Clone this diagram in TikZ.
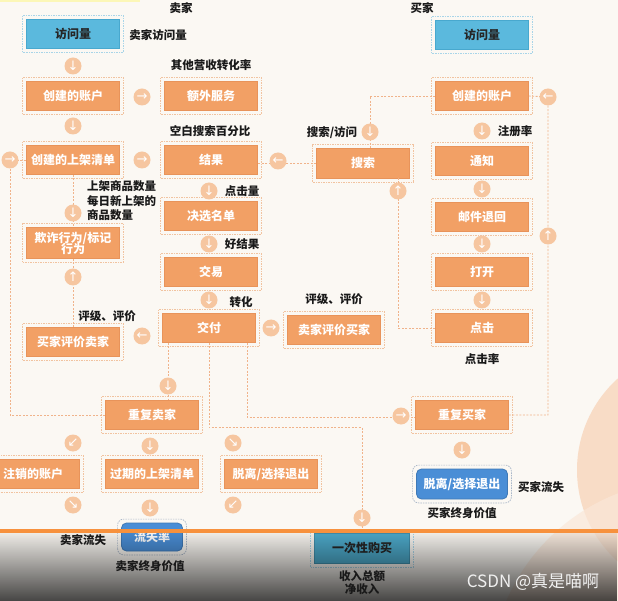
\documentclass[tikz,border=0pt]{standalone}
\usepackage{fontspec}
\setmainfont{Noto Sans CJK SC}
\newfontfamily\symfont{DejaVu Sans}
\usetikzlibrary{calc,fadings}

\definecolor{bgcream}{HTML}{FBF8F3}
\definecolor{peach}{HTML}{F8DCC6}
\definecolor{peachlight}{HTML}{FAE7D8}
\definecolor{boxorange}{HTML}{F2A065}
\definecolor{boxedge}{HTML}{E8935A}
\definecolor{haloorange}{HTML}{F1C3A0}
\definecolor{circpeach}{HTML}{F6C6A0}
\definecolor{lineorange}{HTML}{F0B38A}
\definecolor{skyblue}{HTML}{5BB9DD}
\definecolor{skyedge}{HTML}{48A8CE}
\definecolor{haloblue}{HTML}{A9D5E8}
\definecolor{exitblue}{HTML}{4A8ED6}
\definecolor{halogray}{HTML}{A9B7C8}
\definecolor{tealbox}{HTML}{4DAACB}
\definecolor{stripe}{HTML}{F7913D}

\tikzfading[name=dimdown, top color=transparent!95, bottom color=transparent!28]

\begin{document}
\begin{tikzpicture}[x=1pt, y=-1pt,
    box/.style={draw=boxedge, line width=0.8pt, fill=boxorange, text=white, minimum width=93, minimum height=29,
        inner sep=1pt, align=center, font=\fontsize{12}{14}\selectfont\bfseries},
    visitbox/.style={box, draw=skyedge, fill=skyblue, text=black!85},
    exitbox/.style={box, draw=exitblue!85!black, fill=exitblue, rounded corners=5pt},
    oncebox/.style={box, draw=tealbox!85!black, fill=tealbox, text=black!85},
    halo/.style={draw=haloorange, line width=0.7pt, dash pattern=on 1.5pt off 1pt},
    conn/.style={draw=lineorange, line width=0.9pt, dash pattern=on 2pt off 1.5pt},
    arr/.style={circle, fill=circpeach, text=white, minimum size=17, inner sep=0pt, font=\symfont\fontsize{13}{13}\selectfont},
    lbl/.style={inner sep=0pt, text=black!90, align=center, font=\fontsize{11.5}{14}\selectfont\bfseries}]
    \useasboundingbox (0,0) rectangle (618,601);
    \clip (0,0) rectangle (618,601);

    % Background
    \fill[bgcream] (0,0) rectangle (618,601);
    \fill[yellow!25!bgcream] (0,0) rectangle (140,2);
    \fill[peach] (700,470) circle (123pt);
    \fill[peachlight, opacity=0.7] (690,680) circle (200pt);

    % Seller column
    \node[visitbox] (sv) at (73,34) {访问量};
    \node[box] (sacc) at (73,96) {创建的账户};
    \node[box] (extra) at (211,96) {额外服务};
    \node[box] (slist) at (73,160) {创建的上架清单};
    \node[box] (res) at (211,160) {结果};
    \node[box, minimum height=31] (fraud) at (73,243) {欺诈行为/标记\\[-3pt]行为};
    \node[box] (brs) at (73,342) {买家评价卖家};
    \node[box] (short) at (211,216) {决选名单};
    \node[box] (deal) at (211,272) {交易};
    \node[box] (deliv) at (209,328) {交付};
    \node[box] (srb) at (334,330) {卖家评价买家};
    \node[box, minimum height=30] (search) at (363,163) {搜索};

    % Buyer column
    \node[visitbox] (bv) at (482,35) {访问量};
    \node[box] (bacc) at (482,96) {创建的账户};
    \node[box] (notify) at (482,161) {通知};
    \node[box] (bounce) at (482,217) {邮件退回};
    \node[box] (openn) at (482,272) {打开};
    \node[box] (click) at (482,328) {点击};

    % Repeat and churn
    \node[box] (rseller) at (152,415) {重复卖家};
    \node[box] (closed) at (33,474) {注销的账户};
    \node[box] (expired) at (152,474) {过期的上架清单};
    \node[box] (sopt) at (271,474) {脱离/选择退出};
    \node[exitbox, minimum width=61, minimum height=28] (churn) at (152,537) {流失率};
    \node[box] (rbuyer) at (462,415) {重复买家};
    \node[exitbox, minimum width=91, minimum height=30] (bopt) at (462,484) {脱离/选择退出};
    \node[oncebox, minimum width=95, minimum height=30] (once) at (362,548) {一次性购买};

    % Dashed halos
    \foreach \n in {sacc,extra,slist,res,fraud,brs,short,deal,deliv,srb,search,bacc,notify,bounce,openn,click,rseller,closed,expired,sopt,rbuyer}
        \draw[halo] ($(\n.south west)+(-3.5pt,-3.5pt)$) rectangle ($(\n.north east)+(3.5pt,3.5pt)$);
    \foreach \n in {sv,bv,once}
        \draw[halo, draw=haloblue] ($(\n.south west)+(-3.5pt,-3.5pt)$) rectangle ($(\n.north east)+(3.5pt,3.5pt)$);
    \foreach \n in {churn,bopt}
        \draw[halo, draw=halogray, rounded corners=6pt] ($(\n.south west)+(-3.5pt,-3.5pt)$) rectangle ($(\n.north east)+(3.5pt,3.5pt)$);

    % Connectors
    \coordinate (lloop) at (10,160);
    \coordinate (rloop) at (548,97);
    \coordinate (sn) at ($(search.north)+(7pt,0)$);
    \coordinate (ss) at ($(search.south)+(35pt,0)$);
    \coordinate (dl) at ($(deliv.south)+(-41pt,0)$);
    \coordinate (dr) at ($(deliv.south)+(38pt,0)$);
    \draw[conn] (slist) -- (fraud);
    \draw[conn] (brs) -- (fraud);
    \draw[conn] (search.west) -- (search.west -| res.east);
    \draw[conn] (bacc.west) -| (sn);
    \draw[conn] (click.west) -| (ss);
    \draw[conn] (rseller.west) -| (lloop) -- (slist.west);
    \draw[conn] (rbuyer.east) -| (rloop) -- (bacc.east);
    \draw[conn] (dl) -- (dl |- rseller.north);
    \draw[conn] (deliv.south) -- ++(0,85) -| (once.north);
    \draw[conn] (dr) |- ($(rbuyer.west)+(0,-2pt)$);

    % Arrow circles
    \foreach \px/\py/\g [count=\i] in {73/66/↓, 142/97/→, 73/126/↓, 142/160/→, 10/160/→, 73/213/↓, 73/277/↑,
        142/336/←, 209/191/↓, 209/244/↓, 209/300/↓, 271/328/→, 278/161/←, 370/132/↓, 398/191/↑,
        482/131/↓, 482/189/↓, 482/244/↓, 482/300/↓, 548/97/←, 548/236/↑, 168/386/↓, 362/518/↓,
        401/416/→, 73/443/↙, 150/446/↓, 233/443/↘, 73/505/↘, 150/508/↓, 233/505/↙, 462/450/↓}
        \node[arr] (c\i) at (\px,\py) {\g};

    % Labels
    \node[lbl] (lseller) at (181,8) {卖家};
    \node[lbl] (lbuyer) at (422,8) {买家};
    \node[lbl] (lsv) at (158,35) {卖家访问量};
    \node[lbl] (lextra) at (211,65) {其他营收转化率};
    \node[lbl] (lblank) at (210,131) {空白搜索百分比};
    \node[lbl, anchor=west, align=left, font=\fontsize{11.5}{14.5}\selectfont\bfseries] (llist) at (87,201) {上架商品数量\\每日新上架的\\商品数量};
    \node[lbl] (lclick) at (242,191) {点击量};
    \node[lbl] (lgood) at (242,244) {好结果};
    \node[lbl] (lconv) at (241,302) {转化};
    \node[lbl] (lrate1) at (107,316) {评级、评价};
    \node[lbl] (lrate2) at (334,299) {评级、评价};
    \node[lbl] (lsearch) at (332,133) {搜索/访问};
    \node[lbl] (lreg) at (515,131) {注册率};
    \node[lbl] (lctr) at (482,359) {点击率};
    \node[lbl] (lbout) at (541,487) {买家流失};
    \node[lbl] (lbval) at (462,513) {买家终身价值};

    % Bottom bar
    \fill[stripe] (0,529) rectangle (618,533);
    \fill[black, path fading=dimdown] (0,533) rectangle (618,601);
    \node[lbl] (lsout) at (83,540) {卖家流失};
    \node[lbl] (lsval) at (150,566) {卖家终身价值};
    \node[lbl, font=\fontsize{11.5}{13}\selectfont\bfseries] (lrev) at (362,583) {收入总额\\净收入};
    \node[inner sep=0pt, text=white!88!gray, font=\fontsize{17}{17}\selectfont] (mark) at (533,582) {CSDN @真是喵啊};
\end{tikzpicture}
\end{document}
